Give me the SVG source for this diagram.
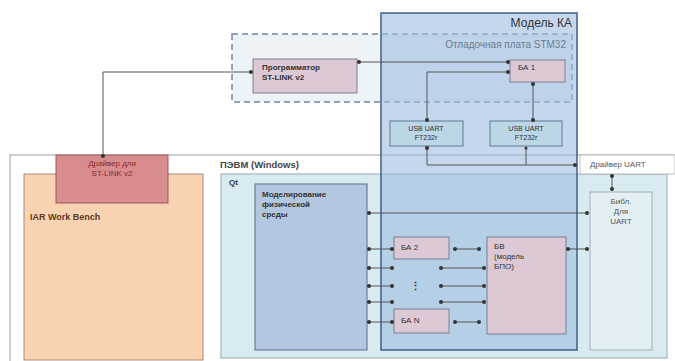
<svg xmlns="http://www.w3.org/2000/svg" width="675" height="361" viewBox="0 0 675 361">
<defs>
<marker id="dot" viewBox="0 0 6 6" refX="3" refY="3" markerWidth="4" markerHeight="4" orient="auto"><circle cx="3" cy="3" r="3" fill="#333"/></marker>
<style>
text{font-family:"Liberation Sans",Arial,sans-serif;}
.c{fill:none;stroke:#555;stroke-width:1;marker-start:url(#dot);marker-end:url(#dot);}
.lbl{font-size:8px;fill:#333;}
.b{font-weight:bold;}
.pink{fill:#ddc9d6;stroke:#7a8090;stroke-width:1;}
.usb{fill:#bcd6e6;stroke:#5c7a96;stroke-width:1;}
</style>
</defs>
<rect width="675" height="361" fill="#ffffff"/>
<g id="pc">
<rect x="10" y="155" width="670" height="215" fill="#ffffff" stroke="#b0b0b0" stroke-width="1.2"/>
<text x="220" y="168" font-size="9.5" class="b" fill="#444">ПЭВМ (Windows)</text>
</g>
<g id="iar">
<rect x="24" y="174" width="179" height="186" fill="#f9d2b2" stroke="#a88a78" stroke-width="1"/>
<text x="30" y="220" font-size="9" class="b" fill="#5a3a20">IAR Work Bench</text>
</g>
<g id="stlink-driver">
<rect x="56" y="155" width="112" height="48" fill="#d88c8e" stroke="#9a5a5e" stroke-width="1"/>
<text x="112" y="166" font-size="8" fill="#8a2a2a" text-anchor="middle">Драйвер для</text>
<text x="112" y="176" font-size="8" fill="#8a2a2a" text-anchor="middle">ST-LINK v2</text>
</g>
<g id="qt">
<rect x="221" y="174" width="446" height="184" fill="#d8ebf1" stroke="#a6b4bc" stroke-width="1.2"/>
<text x="229" y="185" font-size="8" class="b" fill="#333">Qt</text>
</g>
<g id="stm32-board">
<rect x="232" y="34" width="340" height="68" fill="#eef3f7" stroke="#6f88a6" stroke-width="1.5" stroke-dasharray="6,4"/>
</g>
<g id="model-ka">
<rect x="381" y="13" width="196" height="337" fill="#9fbde0" fill-opacity="0.6" stroke="#3f5f86" stroke-width="1.5"/>
<text x="572" y="27" font-size="12" fill="#333" text-anchor="end">Модель КА</text>
<text x="566" y="48" font-size="10" fill="#6a7e94" text-anchor="end">Отладочная плата STM32</text>
</g>
<g id="programmer">
<rect x="253" y="59" width="104" height="34" class="pink" fill="#e8d3dc"/>
<text x="262" y="70" font-size="8" class="b" fill="#333">Программатор</text>
<text x="262" y="80" font-size="8" class="b" fill="#333">ST-LINK v2</text>
</g>
<g id="ba1">
<rect x="510" y="60" width="55" height="22" class="pink"/>
<text x="518" y="70" class="lbl">БА 1</text>
</g>
<g id="usb1">
<rect x="390" y="121" width="73" height="25" class="usb"/>
<text x="426" y="131" font-size="7" fill="#333" text-anchor="middle">USB UART</text>
<text x="426" y="140" font-size="7" fill="#333" text-anchor="middle">FT232r</text>
</g>
<g id="usb2">
<rect x="490" y="121" width="72" height="25" class="usb"/>
<text x="526" y="131" font-size="7" fill="#333" text-anchor="middle">USB UART</text>
<text x="526" y="140" font-size="7" fill="#333" text-anchor="middle">FT232r</text>
</g>
<g id="uart-driver">
<rect x="580" y="155" width="95" height="19" fill="#ffffff" stroke="#b0b0b0" stroke-width="0.8"/>
<text x="590" y="167" font-size="8" fill="#555">Драйвер UART</text>
</g>
<g id="physics">
<rect x="255" y="184" width="112" height="166" fill="#b3c7e0" stroke="#6a7e96" stroke-width="1.2"/>
<text x="262" y="197" font-size="8" class="b" fill="#333">Моделирование</text>
<text x="262" y="207" font-size="8" class="b" fill="#333">физической</text>
<text x="262" y="217" font-size="8" class="b" fill="#333">среды</text>
</g>
<g id="uart-lib">
<rect x="590" y="192" width="62" height="158" fill="#e2f0f4" stroke="#a0b0b8" stroke-width="1"/>
<text x="621" y="204" font-size="8" fill="#555" text-anchor="middle">Библ.</text>
<text x="621" y="214" font-size="8" fill="#555" text-anchor="middle">Для</text>
<text x="621" y="224" font-size="8" fill="#555" text-anchor="middle">UART</text>
</g>
<g id="ba2">
<rect x="394" y="237" width="55" height="22" class="pink"/>
<text x="401" y="250" class="lbl">БА 2</text>
</g>
<g id="bv">
<rect x="487" y="237" width="79" height="97" class="pink"/>
<text x="494" y="249" class="lbl">БВ</text>
<text x="494" y="259" class="lbl">(модель</text>
<text x="494" y="269" class="lbl">БПО)</text>
</g>
<g id="ban">
<rect x="394" y="309" width="55" height="24" class="pink"/>
<text x="401" y="323" class="lbl">БА N</text>
</g>
<g id="ellipsis">
<text x="415" y="290" font-size="11" class="b" fill="#333" text-anchor="middle">⋮</text>
</g>
<g id="connectors">
<path class="c" d="M103,156 V72 H251"/>
<path class="c" d="M359,62 H508"/>
<path class="c" d="M427,120 V72 H508"/>
<path class="c" d="M533,120 V84"/>
<path class="c" d="M427,148 V165 H575"/>
<path fill="none" stroke="#555" d="M526,148 V165"/>
<circle cx="526" cy="148" r="1.5" fill="#333"/>
<path class="c" d="M612,176 V189"/>
<path class="c" d="M369,213 H587"/>
<path class="c" d="M369,249 H392"/>
<path class="c" d="M455,249 H479"/>
<path class="c" d="M568,249 H587"/>
<path class="c" d="M369,268 H392"/>
<path class="c" d="M369,286 H392"/>
<path class="c" d="M369,302 H392"/>
<path class="c" d="M369,322 H392"/>
<path class="c" d="M441,268 H484"/>
<path class="c" d="M441,286 H484"/>
<path class="c" d="M441,302 H484"/>
<path class="c" d="M455,322 H479"/>
</g>
</svg>
